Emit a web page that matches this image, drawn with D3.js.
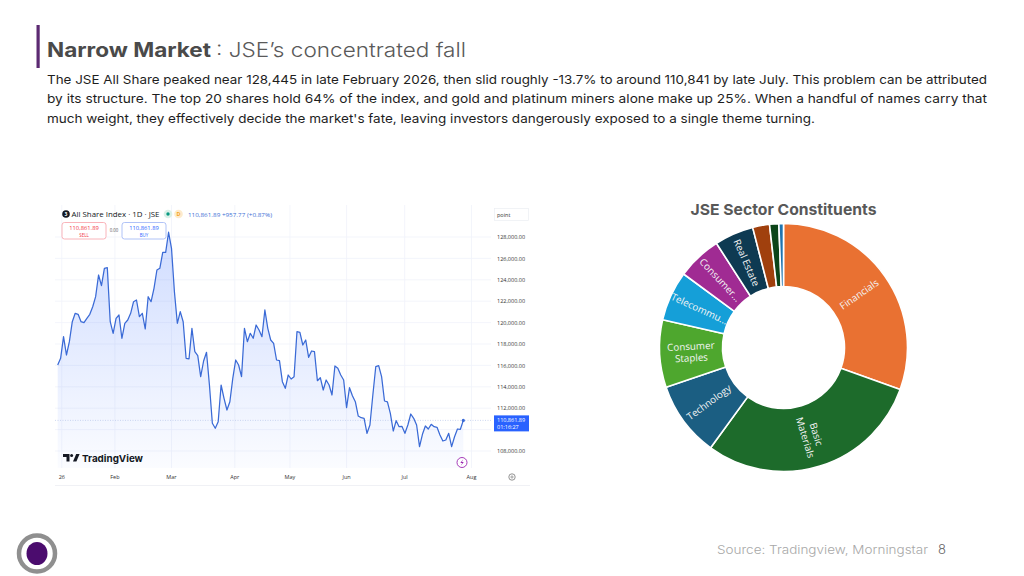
<!DOCTYPE html>
<html><head><meta charset="utf-8">
<script src="https://cdn.jsdelivr.net/npm/d3@7"></script>
<style>body{margin:0;background:#fff}svg{display:block}</style>
</head><body><svg id="c" width="1024" height="576"></svg>
<script>
// ---------- DATA ----------
const titleBold = "Narrow Market";
const titleRest = ": JSE\u2019s concentrated fall";
const paragraphLines = [
  "The JSE All Share peaked near 128,445 in late February 2026, then slid roughly -13.7% to around 110,841 by late July. This problem can be attributed",
  "by its structure. The top 20 shares hold 64% of the index, and gold and platinum miners alone make up 25%. When a handful of names carry that",
  "much weight, they effectively decide the market's fate, leaving investors dangerously exposed to a single theme turning."
];
// JSE All Share daily closes, Jan–Jul 2026
const indexValues = [
  116040,116664,118682,116972,118215,120084,120869,120776,120084,119991,
  120402,120776,121486,122421,124449,123449,125075,125131,120084,119000,
  120402,120710,118533,119935,120243,120869,121953,122112,120551,120869,
  119402,122421,121953,123206,124916,125075,126570,126570,128445,126944,
  122888,119935,121019,120084,116664,116600,119467,117280,116907,114944,
  116411,117224,114168,110589,110122,110738,114168,112925,111832,112607,
  114794,116505,116037,114944,119467,118215,119000,118533,119776,119308,
  118682,121178,119467,118374,118065,116505,116450,114477,113860,115103,
  114729,114944,119150,119093,117907,118374,116757,117346,117280,114570,
  114850,113701,114636,114168,113234,115944,115729,115103,114636,112047,
  113916,113168,112607,111271,111112,111056,109654,110430,113234,115879,
  115972,114944,112673,112600,111523,109869,110832,110271,110300,109654,
  110430,111458,111056,110430,108402,109561,110336,110056,110495,110271,
  110215,109495,108935,109028,109654,108402,109336,110056,110028,110861.89
];
const lastPrice = 110861.89;
const dayChange = "+957.77 (+0.87%)";
const monthLabels = ["26","Feb","Mar","Apr","May","Jun","Jul","Aug"];
const monthTickPos = [1.4,19.6,39,60.7,79.6,99,118.9,141.8]; // in trading-day index units
const priceTicks = [108000,110000,112000,114000,116000,118000,120000,122000,124000,126000,128000];
const priceLabelTicks = [108000,112000,114000,116000,118000,120000,122000,124000,126000,128000];

const sectorNames = ["Financials","Basic Materials","Technology","Consumer Staples","Telecommunications","Consumer Discretionary","Real Estate","Industrials","Energy","Utilities"];
const sectorShares = [30.5,29.5,9.8,8.8,6.5,5.8,5.1,2.2,1.2,0.6];
const sectorLabelLines = [["Financials"],["Basic","Materials"],["Technology"],["Consumer","Staples"],["Telecommu..."],["Consumer..."],["Real Estate"],[],[],[]];
const sectorPalette = ["#E97132","#1D6B2B","#1B5E82","#4EA72E","#159FD8","#A02B93","#0E3A52","#A0400D","#0C4519","#1E74B0"];

const sourceText = "Source: Tradingview, Morningstar";
const pageNumber = "8";

// ---------- DRAW ----------
const svg = d3.select("#c");
const SANS = "Inter, 'Noto Sans', sans-serif";
const OS = "'Open Sans', sans-serif";

// header
svg.append("rect").attr("x",36.5).attr("y",25).attr("width",3.2).attr("height",43).attr("fill","#5C2A72");
svg.append("text").attr("x",47).attr("y",56.5).attr("font-family",SANS).attr("font-size",20).attr("font-weight",700)
  .attr("fill","#4a4a4a").attr("textLength",164).attr("lengthAdjust","spacingAndGlyphs").text(titleBold);
svg.append("text").attr("x",216).attr("y",56.5).attr("font-family",SANS).attr("font-size",20).attr("font-weight",300)
  .attr("fill","#5a5a5a").attr("textLength",250).attr("lengthAdjust","spacingAndGlyphs").text(titleRest);
const pLens = [940,940,768];
paragraphLines.forEach((t,i)=>{
  svg.append("text").attr("x",47).attr("y",83.5+i*19.5).attr("font-family",SANS).attr("font-size",12.2)
    .attr("fill","#1e1e1e").attr("textLength",pLens[i]).attr("lengthAdjust","spacingAndGlyphs").text(t);
});

// ---------- TradingView-like line chart ----------
const tv = svg.append("g");
const plotL = 55, plotR = 491, plotT = 205, plotB = 468;
const x = d3.scaleLinear().domain([0, indexValues.length-1]).range([57.7, 463.3]);
const y = d3.scaleLinear().domain([108000,128000]).range([451,237]);

tv.append("rect").attr("x",plotL).attr("y",plotT).attr("width",475).attr("height",280).attr("fill","#fff");
// grid
tv.selectAll(".hg").data(priceTicks).join("line").attr("x1",plotL).attr("x2",plotR)
  .attr("y1",d=>y(d)).attr("y2",d=>y(d)).attr("stroke","#f0f3fa").attr("stroke-width",0.8);
tv.selectAll(".vg").data(monthTickPos).join("line").attr("x1",d=>x(d)).attr("x2",d=>x(d))
  .attr("y1",plotT).attr("y2",plotB).attr("stroke","#f0f3fa").attr("stroke-width",0.8);

const defs = svg.append("defs");
const gr = defs.append("linearGradient").attr("id","ag").attr("x1",0).attr("x2",0).attr("y1",0).attr("y2",1);
gr.append("stop").attr("offset","0%").attr("stop-color","#2962ff").attr("stop-opacity",0.22);
gr.append("stop").attr("offset","100%").attr("stop-color","#2962ff").attr("stop-opacity",0.02);
defs.append("clipPath").attr("id","pc").append("rect").attr("x",plotL).attr("y",plotT).attr("width",plotR-plotL).attr("height",plotB-plotT);

const pg = tv.append("g").attr("clip-path","url(#pc)");
pg.append("path").datum(indexValues)
  .attr("d", d3.area().x((d,i)=>x(i)).y0(plotB).y1(d=>y(d)))
  .attr("fill","url(#ag)");
// last price line
pg.append("line").attr("x1",plotL).attr("x2",plotR).attr("y1",y(lastPrice)).attr("y2",y(lastPrice))
  .attr("stroke","#b8c6e8").attr("stroke-width",0.7).attr("stroke-dasharray","1,1.5");
pg.append("path").datum(indexValues)
  .attr("d", d3.line().x((d,i)=>x(i)).y(d=>y(d)))
  .attr("fill","none").attr("stroke","#3a6ad6").attr("stroke-width",1.25).attr("stroke-linejoin","round");
pg.append("circle").attr("cx",x(indexValues.length-1)).attr("cy",y(lastPrice)).attr("r",1.6).attr("fill","#3a6ad6");

// y axis labels
const yAxis = d3.axisRight(y).tickValues(priceLabelTicks).tickSize(0).tickFormat(d3.format(",.2f"));
const ya = tv.append("g").attr("transform","translate(494,0)").call(yAxis);
ya.select(".domain").remove();
ya.selectAll("text").attr("font-family",OS).attr("font-size",5.5).attr("fill","#333").attr("x",3).attr("dy","0.32em");
// point box
tv.append("rect").attr("x",494.5).attr("y",208.5).attr("width",34).attr("height",12).attr("fill","#fff").attr("stroke","#eceef3").attr("stroke-width",0.7);
tv.append("text").attr("x",497).attr("y",216.5).attr("font-family",OS).attr("font-size",5.5).attr("fill","#333").text("point");
// price label
tv.append("rect").attr("x",494).attr("y",y(lastPrice)-5).attr("width",35).attr("height",16).attr("fill","#2962ff");
tv.append("text").attr("x",497).attr("y",y(lastPrice)+1.5).attr("font-family",OS).attr("font-size",5.5).attr("fill","#fff").text(d3.format(",.2f")(lastPrice));
tv.append("text").attr("x",497).attr("y",y(lastPrice)+8.5).attr("font-family",OS).attr("font-size",5.5).attr("fill","#fff").text("01:16:27");

// x axis labels
const xa = tv.append("g");
xa.selectAll("text").data(monthLabels).join("text")
  .attr("x",(d,i)=>x(monthTickPos[i])).attr("y",479).attr("text-anchor","middle")
  .attr("font-family",OS).attr("font-size",5.5).attr("fill","#333").text(d=>d);
tv.append("line").attr("x1",55).attr("x2",530).attr("y1",485.5).attr("y2",485.5).attr("stroke","#eceef3").attr("stroke-width",0.8);
// gear
tv.append("circle").attr("cx",512).attr("cy",477).attr("r",3.2).attr("fill","none").attr("stroke","#666").attr("stroke-width",0.7);
tv.append("circle").attr("cx",512).attr("cy",477).attr("r",1.1).attr("fill","none").attr("stroke","#666").attr("stroke-width",0.6);
// lightning
tv.append("circle").attr("cx",462).attr("cy",462.5).attr("r",5).attr("fill","#fff").attr("stroke","#9c27b0").attr("stroke-width",0.9);
tv.append("path").attr("d","M463.2,459.3 L460.3,463 L462.2,463 L460.8,465.8 L463.8,461.9 L461.9,461.9 Z").attr("fill","#9c27b0");

// legend header
tv.append("circle").attr("cx",66).attr("cy",214).attr("r",3.8).attr("fill","#131722");
tv.append("text").attr("x",66).attr("y",216).attr("text-anchor","middle").attr("font-family",OS).attr("font-size",5).attr("font-weight",700).attr("fill","#fff").text("3");
tv.append("text").attr("x",71.5).attr("y",217.2).attr("font-family",OS).attr("font-size",7.8).attr("fill","#131722")
  .attr("textLength",88).attr("lengthAdjust","spacingAndGlyphs").text("All Share Index \u00b7 1D \u00b7 JSE");
tv.append("circle").attr("cx",168).attr("cy",214).attr("r",4.3).attr("fill","#daf1e8");
tv.append("circle").attr("cx",168).attr("cy",214).attr("r",1.7).attr("fill","#089981");
tv.append("circle").attr("cx",178.5).attr("cy",214).attr("r",4.3).attr("fill","#fdebcc");
tv.append("text").attr("x",178.5).attr("y",216).attr("text-anchor","middle").attr("font-family",OS).attr("font-size",5.3).attr("font-weight",700).attr("fill","#f5a623").text("D");
tv.append("text").attr("x",188).attr("y",216.5).attr("font-family",OS).attr("font-size",5.8).attr("fill","#3d6fd6")
  .attr("textLength",84).attr("lengthAdjust","spacingAndGlyphs")
  .text(d3.format(",.2f")(lastPrice)+" "+dayChange);
// sell / buy boxes
[[62,"#f7a1a8","#f23645","SELL"],[122,"#9db4f5","#2962ff","BUY"]].forEach(([bx,sc,tc,lab])=>{
  tv.append("rect").attr("x",bx).attr("y",222.5).attr("width",44).attr("height",16.5).attr("rx",2.5).attr("fill","#fff").attr("stroke",sc).attr("stroke-width",0.8);
  tv.append("text").attr("x",bx+22).attr("y",230).attr("text-anchor","middle").attr("font-family",OS).attr("font-size",5.8).attr("fill",tc).text(d3.format(",.2f")(lastPrice));
  tv.append("text").attr("x",bx+22).attr("y",236.5).attr("text-anchor","middle").attr("font-family",OS).attr("font-size",4.4).attr("fill",tc).text(lab);
});
tv.append("text").attr("x",114).attr("y",231.5).attr("text-anchor","middle").attr("font-family",OS).attr("font-size",4.4).attr("fill","#555").text("0.00");
// TradingView logo
tv.append("path").attr("d","M63,454 h6.5 v7.5 h-3 v-4.6 h-3.5 Z").attr("fill","#131722");
tv.append("circle").attr("cx",71.6).attr("cy",455.5).attr("r",1.5).attr("fill","#131722");
tv.append("path").attr("d","M73,461.5 L76.2,454 L79.6,454 L76.4,461.5 Z").attr("fill","#131722");
tv.append("text").attr("x",82).attr("y",461.5).attr("font-family","Inter, sans-serif").attr("font-size",9.6).attr("font-weight",700).attr("fill","#131722")
  .attr("textLength",61).attr("lengthAdjust","spacingAndGlyphs").text("TradingView");

// ---------- Donut ----------
const cx = 783.5, cy = 347.5, rOut = 124, rIn = 61;
svg.append("text").attr("x",cx).attr("y",214.5).attr("text-anchor","middle").attr("font-family",SANS).attr("font-size",15.2)
  .attr("font-weight",700).attr("fill","#585858").attr("textLength",186).attr("lengthAdjust","spacingAndGlyphs").text("JSE Sector Constituents");
const sectors = sectorNames.map((n,i)=>({name:n, share:sectorShares[i], lines:sectorLabelLines[i]}));
const pie = d3.pie().sort(null).value(d=>d.share);
const arcs = pie(sectors);
const arc = d3.arc().innerRadius(rIn).outerRadius(rOut);
const dg = svg.append("g").attr("transform",`translate(${cx},${cy})`);
dg.selectAll("path").data(arcs).join("path").attr("d",arc)
  .attr("fill",(d,i)=>sectorPalette[i]).attr("stroke","#fff").attr("stroke-width",1.6);
const labelArc = d3.arc().innerRadius((rIn+rOut)/2).outerRadius((rIn+rOut)/2);
dg.selectAll("g.lab").data(arcs.filter(a=>a.data.lines.length)).join("g").attr("class","lab")
  .attr("transform",d=>{
    const [lx,ly] = labelArc.centroid(d);
    const deg = (d.startAngle+d.endAngle)/2*180/Math.PI;
    const rot = deg<180 ? deg-90 : deg-270;
    return `translate(${lx},${ly}) rotate(${rot})`;
  })
  .each(function(d){
    const g = d3.select(this);
    const n = d.data.lines.length;
    d.data.lines.forEach((t,k)=>{
      g.append("text").attr("x",0).attr("y",(k-(n-1)/2)*11.5).attr("dy","0.35em").attr("text-anchor","middle")
        .attr("font-family",OS).attr("font-size",9.8).attr("fill","#f4f4f4").text(t);
    });
  });

// ---------- footer ----------
svg.append("circle").attr("cx",37).attr("cy",553.5).attr("r",18).attr("fill","#fff").attr("stroke","#8f8f8f").attr("stroke-width",4.5);
svg.append("ellipse").attr("cx",37).attr("cy",553.5).attr("rx",10.5).attr("ry",11.5).attr("fill","#4B0C6E");
svg.append("text").attr("x",928).attr("y",553.5).attr("text-anchor","end").attr("font-family",SANS).attr("font-size",12)
  .attr("font-weight",300).attr("fill","#a8a8a8").attr("textLength",211).attr("lengthAdjust","spacingAndGlyphs").text(sourceText);
svg.append("text").attr("x",942).attr("y",554).attr("text-anchor","middle").attr("font-family",SANS).attr("font-size",13)
  .attr("font-weight",300).attr("fill","#666").text(pageNumber);
</script></body></html>
